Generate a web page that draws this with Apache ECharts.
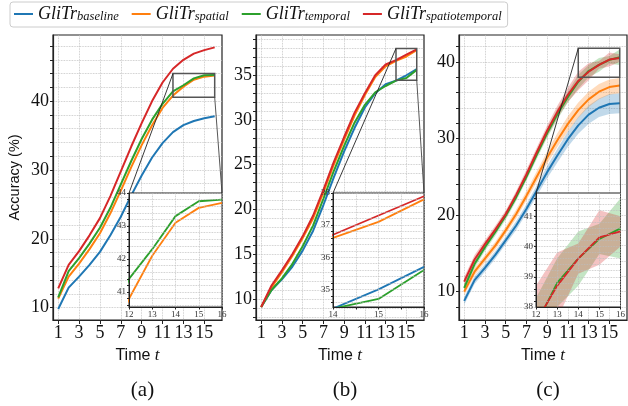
<!DOCTYPE html>
<html>
<head>
<meta charset="utf-8">
<script src="https://cdn.jsdelivr.net/npm/echarts@6/dist/echarts.min.js"></script>
<style>
  html, body { margin: 0; padding: 0; background: #fff; }
  #chart { width: 628px; height: 406px; }
</style>
</head>
<body>
<div id="chart"></div>
<script>
// time steps
var steps = [1, 2, 3, 4, 5, 6, 7, 8, 9, 10, 11, 12, 13, 14, 15, 16];
var names = ['baseline', 'spatial', 'temporal', 'spatiotemporal'];
var colors = ['#1f77b4', '#ff7f0e', '#2ca02c', '#d62728'];

// (a)
var aBaseline = [9.8, 12.9, 14.5, 16.2, 18.1, 20.5, 23.2, 26.3, 29.2, 31.8, 33.9, 35.5, 36.5, 37.1, 37.5, 37.8];
var aSpatial = [11.3, 14.5, 16.4, 18.5, 20.8, 23.7, 27.0, 30.4, 33.6, 36.5, 39.0, 40.8, 42.1, 43.1, 43.55, 43.7];
var aTemporal = [11.5, 15.3, 17.2, 19.3, 21.6, 24.5, 27.9, 31.3, 34.5, 37.3, 39.6, 41.4, 42.3, 43.3, 43.75, 43.8];
var aSpatiotemporal = [12.8, 16.2, 18.2, 20.5, 23.0, 26.2, 29.8, 33.4, 36.8, 40.0, 42.7, 44.7, 46.0, 46.9, 47.4, 47.8];

// (b)
var bBaseline = [9.1, 11.0, 12.2, 13.6, 15.4, 17.6, 20.5, 23.6, 26.5, 29.1, 31.4, 33.0, 34.0, 34.4, 35.0, 35.7];
var bSpatial = [9.1, 11.3, 13.0, 14.8, 16.8, 19.0, 21.9, 25.0, 27.8, 30.5, 32.8, 34.8, 36.0, 36.6, 37.1, 37.8];
var bTemporal = [9.1, 11.0, 12.3, 13.9, 15.9, 18.2, 21.2, 24.3, 27.1, 29.7, 31.7, 33.1, 33.8, 34.4, 34.7, 35.6];
var bSpatiotemporal = [9.1, 11.5, 13.2, 15.0, 17.0, 19.3, 22.2, 25.3, 28.1, 30.8, 33.0, 35.0, 36.2, 36.7, 37.3, 37.9];

// (c) mean and std
var cBaseline = [8.8, 11.5, 13.1, 14.8, 16.7, 18.6, 20.8, 23.2, 25.6, 27.8, 29.9, 31.7, 33.1, 34.0, 34.5, 34.6];
var cSpatial = [10.0, 12.6, 14.3, 16.0, 18.0, 20.1, 22.5, 25.0, 27.5, 29.8, 31.9, 33.7, 35.1, 36.1, 36.7, 36.9];
var cTemporal = [10.5, 13.6, 15.8, 17.8, 19.9, 22.3, 25.0, 27.9, 30.7, 33.2, 35.4, 37.4, 38.8, 39.6, 40.25, 40.6];
var cSpatiotemporal = [11.3, 14.2, 16.2, 18.1, 20.1, 22.6, 25.3, 28.2, 31.0, 33.5, 35.7, 37.5, 38.7, 39.6, 40.3, 40.5];
var cBaselineStd = [0.5, 0.5, 0.5, 0.5, 0.5, 0.6, 0.6, 0.7, 0.8, 0.9, 1.0, 1.1, 1.2, 1.2, 1.3, 1.3];
var cSpatialStd = [0.5, 0.5, 0.5, 0.5, 0.5, 0.6, 0.6, 0.7, 0.8, 0.9, 1.0, 1.0, 1.0, 1.0, 1.0, 1.0];
var cTemporalStd = [0.5, 0.5, 0.5, 0.5, 0.5, 0.5, 0.5, 0.6, 0.6, 0.7, 0.7, 0.9, 0.8, 0.9, 0.5, 1.0];
var cSpatiotemporalStd = [0.6, 0.6, 0.5, 0.5, 0.5, 0.5, 0.6, 0.6, 0.7, 0.8, 0.9, 1.2, 1.1, 0.5, 0.9, 0.5];

// tick labels
var xLabels = [1, 3, 5, 7, 9, 11, 13, 15];
var aYLabels = [10, 20, 30, 40];
var bYLabels = [10, 15, 20, 25, 30, 35];
var cYLabels = [10, 20, 30, 40];
var aInsetYLabels = [41, 42, 43, 44];
var bInsetYLabels = [35, 36, 37, 38];
var cInsetYLabels = [38, 39, 40, 41];
var bInsetXLabels = [14, 15, 16];

// grid line positions
function seq(a, b, s) {
  var out = [];
  for (var v = a; v <= b + 1e-9; v += s) out.push(Math.round(v * 100) / 100);
  return out;
}

var panels = [
  {
    label: '(a)', data: [aBaseline, aSpatial, aTemporal, aSpatiotemporal],
    main: { left: 53, width: 169, yMin: 8.2, yMax: 49.6, yTicks: seq(10, 48, 2), yLabels: aYLabels },
    inset: { left: 129, width: 93, xMin: 12, xMax: 16, xInterval: 1, yMin: 40.55, yMax: 44, yTicks: seq(40.6, 44, 0.2), yLabels: aInsetYLabels }
  },
  {
    label: '(b)', data: [bBaseline, bSpatial, bTemporal, bSpatiotemporal],
    main: { left: 256, width: 168, yMin: 7.65, yMax: 39.5, yTicks: seq(8, 39, 1), yLabels: bYLabels },
    inset: { left: 333, width: 91, xMin: 14, xMax: 16, xInterval: 0.5, xLabels: bInsetXLabels, yMin: 34.45, yMax: 38, yTicks: seq(34.6, 38, 0.2), yLabels: bInsetYLabels }
  },
  {
    label: '(c)', data: [cBaseline, cSpatial, cTemporal, cSpatiotemporal],
    std: [cBaselineStd, cSpatialStd, cTemporalStd, cSpatiotemporalStd],
    main: { left: 459, width: 168, yMin: 6.3, yMax: 43.5, yTicks: seq(8, 42, 2), yLabels: cYLabels },
    inset: { left: 536, width: 91, xMin: 12, xMax: 16, xInterval: 1, yMin: 38, yMax: 41.77, yTicks: seq(38.2, 41.6, 0.2), yLabels: cInsetYLabels }
  }
];

var serif = 'Liberation Serif';
var gridDot = { type: 'dotted', color: '#bdbdbd', width: 0.8 };

var grids = [], xAxes = [], yAxes = [], series = [], titles = [];

panels.forEach(function (p, k) {
  var gm = grids.length;
  grids.push({
    left: p.main.left, top: 35, width: p.main.width, height: 285,
    show: true, borderColor: '#222', borderWidth: 1.2, backgroundColor: 'transparent'
  });
  var gi = grids.length;
  grids.push({
    left: p.inset.left, top: 193, width: p.inset.width, height: 114, z: 10,
    show: true, borderColor: '#222', borderWidth: 1, backgroundColor: '#fff'
  });

  xAxes.push({
    type: 'value', gridIndex: gm, min: 0.5, max: 16.7,
    name: '{a|Time }{b|t}', nameLocation: 'middle', nameGap: 22,
    nameTextStyle: {
      rich: {
        a: { fontFamily: 'Liberation Sans', fontSize: 16, color: '#111' },
        b: { fontFamily: serif, fontStyle: 'italic', fontSize: 17, color: '#111' }
      }
    },
    axisLine: { show: true, onZero: false, lineStyle: { color: '#222', width: 1.2 } },
    axisTick: { show: true, length: 4, customValues: xLabels, lineStyle: { color: '#222' } },
    axisLabel: { customValues: xLabels, margin: 4, fontFamily: serif, fontSize: 18, color: '#111' },
    splitLine: { show: true, lineStyle: gridDot }
  });
  yAxes.push({
    type: 'value', gridIndex: gm, min: p.main.yMin, max: p.main.yMax,
    name: k === 0 ? 'Accuracy (%)' : '', nameLocation: 'middle', nameGap: 31,
    nameTextStyle: { fontFamily: 'Liberation Sans', fontSize: 14.5, color: '#111' },
    axisLine: { show: true, onZero: false, lineStyle: { color: '#222', width: 1.2 } },
    axisTick: { show: true, length: 3, customValues: p.main.yTicks, lineStyle: { color: '#222' } },
    axisLabel: { customValues: p.main.yLabels, margin: 4, fontFamily: serif, fontSize: 18, color: '#111' },
    splitLine: { show: true, lineStyle: gridDot }
  });

  var ix = {
    type: 'value', gridIndex: gi, min: p.inset.xMin, max: p.inset.xMax, interval: p.inset.xInterval, z: 13,
    axisLine: { show: true, onZero: false, lineStyle: { color: '#222', width: 1 } },
    axisTick: { show: true, length: 2.5, lineStyle: { color: '#222' } },
    axisLabel: { margin: 3, fontFamily: serif, fontSize: 9, color: '#333' },
    splitLine: { show: true, lineStyle: gridDot }
  };
  if (p.inset.xLabels) ix.axisLabel.customValues = p.inset.xLabels;
  xAxes.push(ix);
  yAxes.push({
    type: 'value', gridIndex: gi, min: p.inset.yMin, max: p.inset.yMax, z: 13,
    axisLine: { show: true, onZero: false, lineStyle: { color: '#222', width: 1 } },
    axisTick: { show: true, length: 2, customValues: p.inset.yTicks, lineStyle: { color: '#222' } },
    axisLabel: { customValues: p.inset.yLabels, margin: 3, fontFamily: serif, fontSize: 9, color: '#333' },
    splitLine: { show: true, lineStyle: gridDot }
  });

  [gm, gi].forEach(function (g, which) {
    var zBase = which === 0 ? 1 : 11;
    if (p.std) {
      p.data.forEach(function (mean, s) {
        var sd = p.std[s];
        series.push({
          type: 'custom', name: 'band ' + names[s], xAxisIndex: g, yAxisIndex: g,
          clip: true, silent: true, z: zBase,
          data: steps.map(function (t, i) { return [t, mean[i] - sd[i], mean[i] + sd[i]]; }),
          renderItem: function (params, api) {
            if (params.dataIndex !== 0) return null;
            var pts = [], i;
            for (i = 0; i < steps.length; i++) pts.push(api.coord([steps[i], mean[i] + sd[i]]));
            for (i = steps.length - 1; i >= 0; i--) pts.push(api.coord([steps[i], mean[i] - sd[i]]));
            return { type: 'polygon', shape: { points: pts }, style: { fill: colors[s], opacity: 0.28 } };
          }
        });
      });
    }
    p.data.forEach(function (arr, s) {
      series.push({
        type: 'line', name: names[s], xAxisIndex: g, yAxisIndex: g,
        data: steps.map(function (t, i) { return [t, arr[i]]; }),
        symbol: 'none', clip: true, z: zBase + 1,
        color: colors[s],
        lineStyle: { color: colors[s], width: which === 0 ? 2 : 1.8 }
      });
    });
  });

  titles.push({
    text: p.label, left: p.main.left + p.main.width / 2, top: 375, textAlign: 'center',
    textStyle: { fontFamily: serif, fontSize: 21, fontWeight: 'normal', color: '#111' }
  });
});

var chart = echarts.init(document.getElementById('chart'), null, { renderer: 'canvas' });
chart.setOption({
  animation: false,
  title: titles,
  legend: {
    data: names, left: 10, top: 2, selectedMode: false,
    icon: 'rect', itemWidth: 19, itemHeight: 2, itemGap: 13,
    padding: [3, 6, 3, 4],
    borderColor: '#ccc', borderWidth: 1, borderRadius: 3,
    formatter: function (n) { return '{m|GliTr}{s|' + n + '}'; },
    textStyle: {
      rich: {
        m: { fontFamily: serif, fontStyle: 'italic', fontSize: 18, color: '#111', lineHeight: 20 },
        s: { fontFamily: serif, fontStyle: 'italic', fontSize: 12.5, color: '#111', verticalAlign: 'bottom', lineHeight: 12, padding: [0, 0, 1, 0] }
      }
    }
  },
  grid: grids,
  xAxis: xAxes,
  yAxis: yAxes,
  series: series
});

// zoom boxes and connector lines
var gfx = [];
panels.forEach(function (p, k) {
  var gm = k * 2, gi = k * 2 + 1, b = p.inset;
  var tl = chart.convertToPixel({ gridIndex: gm }, [b.xMin, b.yMax]);
  var br = chart.convertToPixel({ gridIndex: gm }, [b.xMax, b.yMin]);
  var itl = chart.convertToPixel({ gridIndex: gi }, [b.xMin, b.yMax]);
  var itr = chart.convertToPixel({ gridIndex: gi }, [b.xMax, b.yMax]);
  gfx.push({
    type: 'rect', z: 5, silent: true,
    shape: { x: tl[0], y: tl[1], width: br[0] - tl[0], height: br[1] - tl[1] },
    style: { fill: 'none', stroke: '#555', lineWidth: 1.5 }
  });
  gfx.push({ type: 'line', z: 5, silent: true, shape: { x1: tl[0], y1: tl[1], x2: itl[0], y2: itl[1] }, style: { stroke: '#222', lineWidth: 0.9 } });
  gfx.push({ type: 'line', z: 5, silent: true, shape: { x1: br[0], y1: br[1], x2: itr[0], y2: itr[1] }, style: { stroke: '#444', lineWidth: 0.9 } });
});
chart.setOption({ graphic: { elements: gfx } });
</script>
</body>
</html>
